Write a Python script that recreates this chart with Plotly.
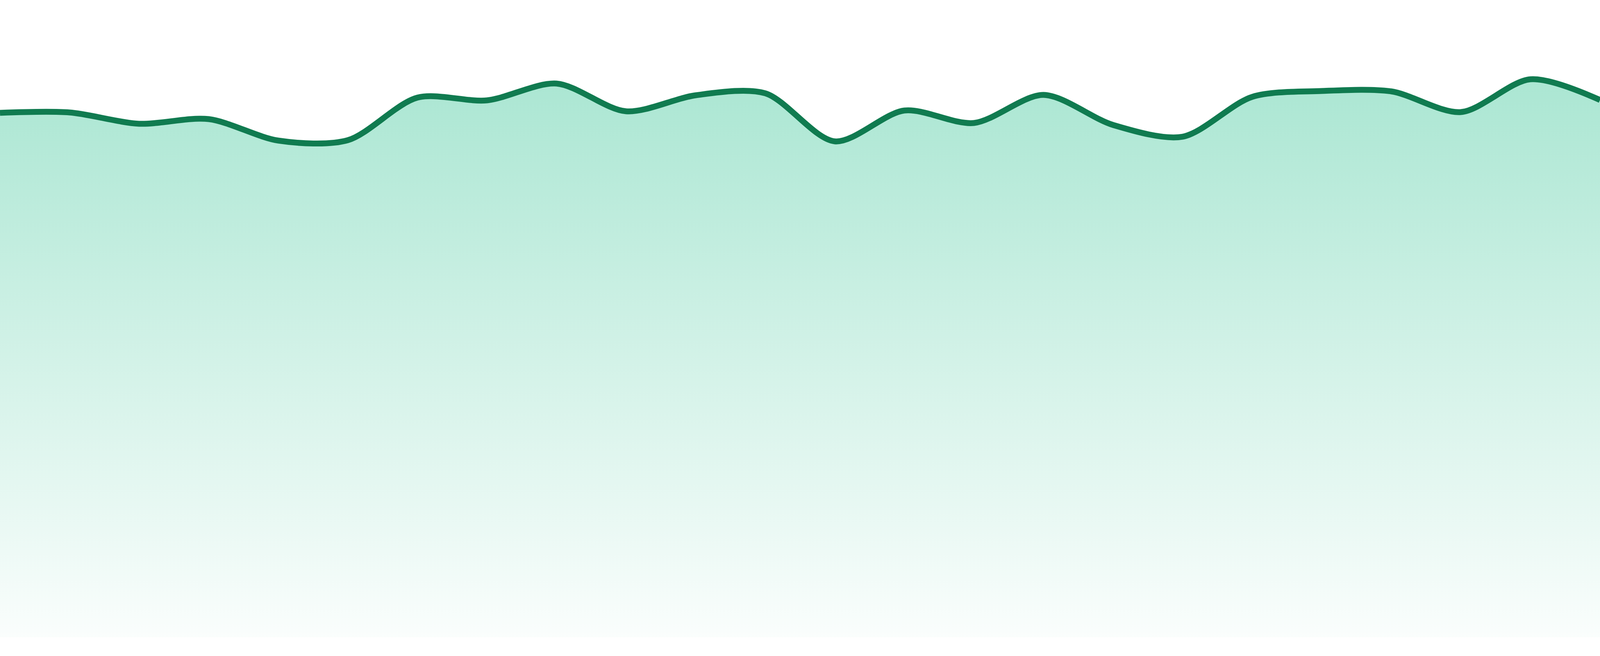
import plotly.graph_objects as go

# Data (24 evenly spaced observations)
x_index = list(range(24))
values = [82.29, 82.35, 80.58, 81.31, 77.94, 78.00, 84.68, 84.25,
          86.89, 82.54, 85.05, 85.36, 77.82, 82.66, 80.70, 85.11,
          80.39, 78.55, 84.80, 85.72, 85.66, 82.41, 87.56, 84.31]

y_min, y_max = 0, 100

fig = go.Figure()
fig.add_trace(go.Scatter(
    x=x_index,
    y=values,
    mode="lines",
    line=dict(color="rgb(16,123,80)", width=15, shape="spline", smoothing=0.85),
    fill="tozeroy",
    fillgradient=dict(
        type="vertical",
        start=y_min,
        stop=y_max,
        colorscale=[[0, "rgba(16,185,129,0.02)"], [1, "rgba(16,185,129,0.40)"]],
    ),
    hoverinfo="skip",
    showlegend=False,
))

fig.update_layout(
    autosize=True,
    margin=dict(l=0, r=0, t=0, b=0, pad=0),
    paper_bgcolor="white",
    plot_bgcolor="white",
    xaxis=dict(range=[x_index[0], x_index[-1]], visible=False, showgrid=False, zeroline=False),
    yaxis=dict(range=[y_min, y_max], domain=[48 / 1680, 1], visible=False,
               showgrid=False, zeroline=False),
)

fig.write_html(
    "out.html",
    default_width="100vw",
    default_height="100vh",
    config={"displayModeBar": False, "staticPlot": True, "responsive": True},
    post_script=(
        "document.body.style.margin='0';"
        "document.body.style.overflow='hidden';"
        "document.documentElement.style.overflow='hidden';"
        "Plotly.Plots.resize(document.getElementById('{plot_id}'));"
    ),
)
